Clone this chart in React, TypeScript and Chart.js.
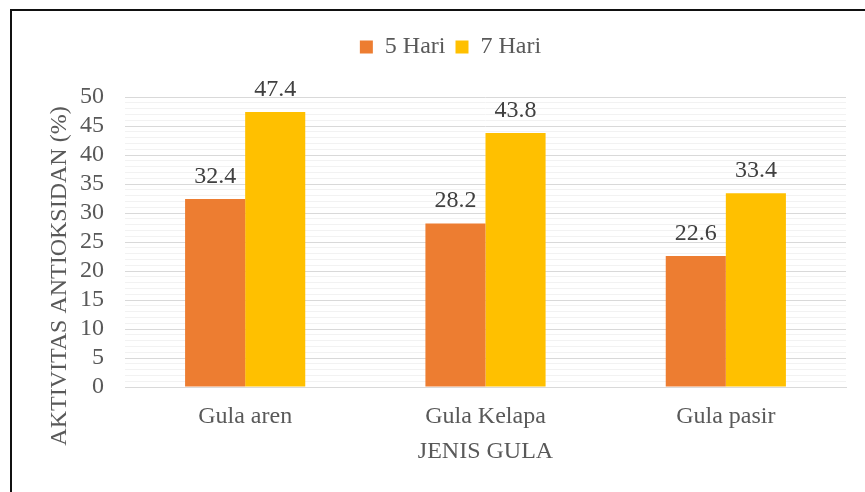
import React, { useEffect, useRef } from 'react';
import { Chart, registerables } from 'chart.js';

Chart.register(...registerables);

const categories = ['Gula aren', 'Gula Kelapa', 'Gula pasir'];
const seriesLabels = ['5 Hari', '7 Hari'];
const series5Hari = [32.4, 28.2, 22.6];
const series7Hari = [47.4, 43.8, 33.4];
const seriesColors = ['#ED7D31', '#FFC000'];
const yTitle = 'AKTIVITAS ANTIOKSIDAN (%)';
const xTitle = 'JENIS GULA';
const yMin = 0;
const yMax = 50;
const yMajorStep = 5;
const yMinorStep = 1;

const FONT = "'Liberation Serif', 'Times New Roman', serif";
const TEXT = '#595959';

const dataLabelPlugin = {
  id: 'dataLabels',
  afterDatasetsDraw(chart: any) {
    const ctx = chart.ctx;
    ctx.save();
    ctx.font = `24px ${FONT}`;
    ctx.fillStyle = '#404040';
    ctx.textAlign = 'center';
    ctx.textBaseline = 'alphabetic';
    chart.data.datasets.forEach((ds: any, i: number) => {
      const meta = chart.getDatasetMeta(i);
      meta.data.forEach((el: any, j: number) => {
        ctx.fillText(String(ds.data[j]), el.x, el.y - 16);
      });
    });
    ctx.restore();
  },
};

const yTitlePlugin = {
  id: 'yTitle',
  afterDraw(chart: any) {
    const { ctx, chartArea } = chart;
    ctx.save();
    ctx.font = `24px ${FONT}`;
    ctx.fillStyle = TEXT;
    ctx.textAlign = 'center';
    ctx.textBaseline = 'middle';
    ctx.translate(chartArea.left - 65, (chartArea.top + chartArea.bottom) / 2 + 34);
    ctx.rotate(-Math.PI / 2);
    ctx.fillText(yTitle, 0, 0);
    ctx.restore();
  },
};

export default function App() {
  const ref = useRef<HTMLCanvasElement>(null);

  useEffect(() => {
    const chart = new Chart(ref.current as HTMLCanvasElement, {
      type: 'bar',
      data: {
        labels: categories,
        datasets: [
          { label: seriesLabels[0], data: series5Hari, backgroundColor: seriesColors[0] },
          { label: seriesLabels[1], data: series7Hari, backgroundColor: seriesColors[1] },
        ],
      },
      options: {
        animation: false,
        responsive: true,
        maintainAspectRatio: false,
        datasets: { bar: { categoryPercentage: 0.5, barPercentage: 1 } },
        layout: { padding: { top: 25, left: 55, right: 19, bottom: 0 } },
        plugins: {
          legend: {
            position: 'top',
            labels: {
              font: { family: FONT, size: 24 },
              color: TEXT,
              boxWidth: 13,
              boxHeight: 13,
              padding: 10,
            },
          },
          tooltip: { enabled: false },
        },
        scales: {
          x: {
            position: 'bottom',
            grid: { display: false, drawTicks: false },
            border: { display: true, color: '#d9d9d9' },
            ticks: { font: { family: FONT, size: 24 }, color: TEXT, padding: 15 },
            title: {
              display: true,
              text: xTitle,
              font: { family: FONT, size: 24 },
              color: TEXT,
              padding: { top: 0, bottom: 25.6 },
            },
            afterFit(s: any) {
              s.height = 105;
            },
          },
          xTop: {
            type: 'category',
            position: 'top',
            grid: { display: false, drawTicks: false },
            border: { display: false },
            ticks: { display: false },
            afterFit(s: any) {
              s.height = 28;
            },
          },
          y: {
            min: yMin,
            max: yMax,
            grid: {
              drawTicks: false,
              color: (c: any) => (c.tick && c.tick.value % yMajorStep === 0 ? '#d9d9d9' : '#f2f2f2'),
              lineWidth: 1,
            },
            border: { display: false },
            ticks: {
              stepSize: yMinorStep,
              maxTicksLimit: 100,
              autoSkip: false,
              font: { family: FONT, size: 24 },
              color: TEXT,
              padding: 21,
              callback: (v: any) => (Number(v) % yMajorStep === 0 ? String(v) : ''),
            },
            afterFit(s: any) {
              s.width = 70;
            },
          },
        },
      } as any,
      plugins: [dataLabelPlugin, yTitlePlugin],
    });
    return () => chart.destroy();
  }, []);

  return (
    <div
      style={{
        position: 'absolute',
        left: 0,
        top: 0,
        width: 865,
        height: 492,
        background: '#fff',
        overflow: 'hidden',
      }}
    >
      <canvas ref={ref} />
      <div
        style={{
          position: 'absolute',
          left: 10,
          top: 9,
          width: 1200,
          height: 1200,
          borderTop: '2px solid #111',
          borderLeft: '2px solid #111',
          pointerEvents: 'none',
        }}
      />
    </div>
  );
}
